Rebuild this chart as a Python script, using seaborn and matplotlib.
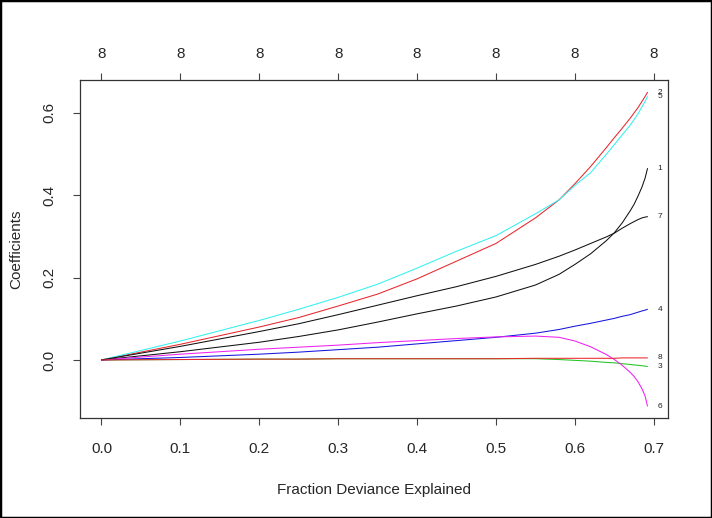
import numpy as np
import pandas as pd
import matplotlib
matplotlib.use("Agg")
import matplotlib.pyplot as plt
import seaborn as sns
from matplotlib.patches import Rectangle

# Fraction of deviance explained (x) along the path
dev = [0.0, 0.1, 0.2, 0.25, 0.3, 0.35, 0.4, 0.45, 0.5, 0.55, 0.58, 0.6, 0.62, 0.64, 0.65, 0.66, 0.67, 0.675, 0.68, 0.685, 0.689, 0.692]

# Coefficient paths for the 8 variables
coef_1 = [0, 0.020, 0.043, 0.057, 0.073, 0.092, 0.112, 0.131, 0.153, 0.182, 0.208, 0.232, 0.258, 0.290, 0.309, 0.333, 0.362, 0.378, 0.398, 0.420, 0.442, 0.465]
coef_2 = [0, 0.038, 0.080, 0.103, 0.131, 0.160, 0.197, 0.240, 0.283, 0.345, 0.389, 0.428, 0.470, 0.516, 0.540, 0.563, 0.587, 0.600, 0.613, 0.628, 0.640, 0.650]
coef_3 = [0, 0.001, 0.002, 0.002, 0.003, 0.003, 0.003, 0.003, 0.003, 0.003, 0.001, -0.001, -0.003, -0.006, -0.007, -0.009, -0.011, -0.012, -0.013, -0.014, -0.015, -0.016]
coef_4 = [0, 0.006, 0.014, 0.019, 0.025, 0.031, 0.039, 0.047, 0.055, 0.065, 0.074, 0.082, 0.089, 0.097, 0.101, 0.106, 0.110, 0.113, 0.116, 0.119, 0.121, 0.123]
coef_5 = [0, 0.046, 0.096, 0.123, 0.152, 0.184, 0.223, 0.264, 0.302, 0.355, 0.389, 0.424, 0.455, 0.500, 0.523, 0.547, 0.570, 0.584, 0.598, 0.615, 0.628, 0.640]
coef_6 = [0, 0.014, 0.026, 0.031, 0.036, 0.042, 0.047, 0.052, 0.056, 0.058, 0.055, 0.046, 0.032, 0.013, 0.001, -0.013, -0.030, -0.040, -0.053, -0.070, -0.088, -0.112]
coef_7 = [0, 0.033, 0.069, 0.088, 0.110, 0.133, 0.156, 0.178, 0.203, 0.232, 0.252, 0.267, 0.283, 0.299, 0.308, 0.320, 0.331, 0.336, 0.341, 0.345, 0.347, 0.348]
coef_8 = [0, 0.001, 0.002, 0.002, 0.003, 0.003, 0.003, 0.003, 0.003, 0.004, 0.004, 0.004, 0.004, 0.004, 0.004, 0.005, 0.005, 0.005, 0.005, 0.005, 0.005, 0.005]

var_names = ["1", "2", "3", "4", "5", "6", "7", "8"]
x_ticks = [0.0, 0.1, 0.2, 0.3, 0.4, 0.5, 0.6, 0.7]
x_tick_labels = ["0.0", "0.1", "0.2", "0.3", "0.4", "0.5", "0.6", "0.7"]
y_ticks = [0.0, 0.2, 0.4, 0.6]
y_tick_labels = ["0.0", "0.2", "0.4", "0.6"]
top_labels = ["8", "8", "8", "8", "8", "8", "8", "8"]

colors = {"1": "#111111", "2": "#E8262B", "3": "#22C322", "4": "#1515E0",
          "5": "#33F0F0", "6": "#F020F0", "7": "#111111", "8": "#E8262B"}

all_coefs = [coef_1, coef_2, coef_3, coef_4, coef_5, coef_6, coef_7, coef_8]
rows = []
for name, vals in zip(var_names, all_coefs):
    for d, v in zip(dev, vals):
        rows.append({"dev": d, "coef": v, "var": name})
df = pd.DataFrame(rows)

sns.set_style("white")
plt.rcParams["font.family"] = ["Liberation Sans", "DejaVu Sans"]
plt.rcParams["font.size"] = 11

fig = plt.figure(figsize=(7.12, 5.18), dpi=100)
ax = fig.add_axes([80 / 712, 1 - 418 / 518, (668 - 80) / 712, (418 - 80) / 518])

sns.lineplot(data=df, x="dev", y="coef", hue="var", palette=colors,
             hue_order=var_names, legend=False, ax=ax, linewidth=0.75,
             estimator=None, sort=False)

ax.set_xlim(-0.0272, 0.718)
ax.set_ylim(-0.141, 0.680)

for s in ax.spines.values():
    s.set_color("#333333")
    s.set_linewidth(0.9)

ax.set_xticks(x_ticks)
ax.set_xticklabels(x_tick_labels)
ax.set_yticks(y_ticks)
ax.set_yticklabels(y_tick_labels, rotation=90, va="center")
ax.tick_params(axis="both", direction="out", length=5, width=0.8, color="#444444",
               labelsize=11, bottom=True, left=True)
ax.tick_params(axis="x", pad=12)
ax.tick_params(axis="y", pad=12)

ax.set_xlabel("Fraction Deviance Explained", fontsize=11, labelpad=20)
ax.set_ylabel("Coefficients", fontsize=11, labelpad=14)

top = ax.secondary_xaxis("top")
top.set_xticks(x_ticks)
top.set_xticklabels(top_labels)
top.tick_params(direction="out", length=5, width=0.8, color="#444444", labelsize=11, pad=9)
top.spines["top"].set_visible(False)

# variable labels at the right end of each path
x_end = dev[-1]
for name, vals in zip(var_names, all_coefs):
    ax.text(x_end + 0.016, vals[-1], name, fontsize=6, ha="center", va="center", color="#222222")

fig.patches.append(Rectangle((0, 0), 1, 1, transform=fig.transFigure, fill=False,
                             edgecolor="black", linewidth=2.5))

fig.savefig("out.png", dpi=100)
